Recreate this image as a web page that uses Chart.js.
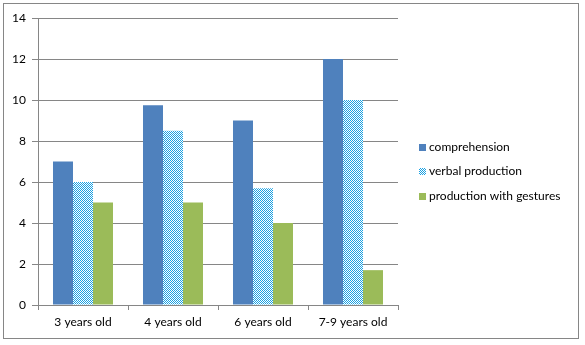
<!DOCTYPE html>
<html>
<head>
<meta charset="utf-8">
<script src="https://cdn.jsdelivr.net/npm/chart.js@4/dist/chart.umd.min.js"></script>
<style>
html,body{margin:0;padding:0;background:#fff;}
#c{display:block;}
</style>
</head>
<body>
<canvas id="c" width="585" height="345" style="width:585px;height:345px"></canvas>
<script>
const categories = ['3 years old', '4 years old', '6 years old', '7-9 years old'];
const seriesNames = ['comprehension', 'verbal production', 'production with gestures'];
const comprehension = [7, 9.75, 9, 12];
const verbalProduction = [6, 8.5, 5.7, 10];
const productionWithGestures = [5, 5, 4, 1.7];
const yTicks = [0, 2, 4, 6, 8, 10, 12, 14];

function checker(color) {
  const p = document.createElement('canvas');
  p.width = 2; p.height = 2;
  const g = p.getContext('2d');
  g.fillStyle = '#ffffff'; g.fillRect(0, 0, 2, 2);
  g.fillStyle = color;
  g.fillRect(0, 0, 1, 1);
  g.fillRect(1, 1, 1, 1);
  return document.getElementById('c').getContext('2d').createPattern(p, 'repeat');
}

const FONT = 'Lato, "Open Sans", sans-serif';
const GRID = '#868686';

const frame = {
  id: 'frame',
  beforeDraw(chart) {
    const ctx = chart.ctx;
    ctx.save();
    ctx.fillStyle = '#fff';
    ctx.fillRect(0, 0, chart.width, chart.height);
    ctx.strokeStyle = GRID;
    ctx.lineWidth = 1;
    ctx.strokeRect(3.5, 3.5, 575, 335);
    ctx.restore();
  }
};

const sideLegend = {
  id: 'sideLegend',
  afterDraw(chart) {
    const ctx = chart.ctx;
    ctx.save();
    ctx.font = '12px ' + FONT;
    ctx.textBaseline = 'middle';
    ctx.textAlign = 'left';
    chart.data.datasets.forEach((ds, i) => {
      const cy = 147 + i * 24.5;
      ctx.fillStyle = ds.backgroundColor;
      ctx.fillRect(419, Math.round(cy - 3.5), 7, 7);
      ctx.fillStyle = '#000';
      ctx.fillText(ds.label, 429, cy);
    });
    ctx.restore();
  }
};

new Chart(document.getElementById('c'), {
  type: 'bar',
  data: {
    labels: categories,
    datasets: [
      { label: seriesNames[0], data: comprehension, backgroundColor: '#4F81BD' },
      { label: seriesNames[1], data: verbalProduction, backgroundColor: checker('#1BA1E2') },
      { label: seriesNames[2], data: productionWithGestures, backgroundColor: '#9BBB59' }
    ]
  },
  options: {
    responsive: false,
    animation: false,
    devicePixelRatio: 1,
    layout: { padding: { top: 18, right: 187, bottom: 0, left: 0 } },
    datasets: { bar: { categoryPercentage: 0.6667, barPercentage: 1, borderWidth: 0 } },
    plugins: { legend: { display: false }, tooltip: { enabled: false } },
    scales: {
      x: {
        grid: { drawOnChartArea: false, drawTicks: true, tickLength: 5, color: GRID, offset: true },
        border: { display: true, color: GRID, width: 1 },
        ticks: { font: { family: FONT, size: 12 }, color: '#000', padding: 5, maxRotation: 0 },
        afterFit(s) { s.height = 40; }
      },
      y: {
        min: 0, max: 14,
        afterBuildTicks(s) { s.ticks = yTicks.map(v => ({ value: v })); },
        grid: { color: GRID, tickLength: 6, drawTicks: true },
        border: { display: true, color: GRID, width: 1 },
        ticks: { font: { family: FONT, size: 12 }, color: '#000', padding: 6 },
        afterFit(s) { s.width = 38; }
      }
    }
  },
  plugins: [frame, sideLegend]
});
</script>
</body>
</html>
